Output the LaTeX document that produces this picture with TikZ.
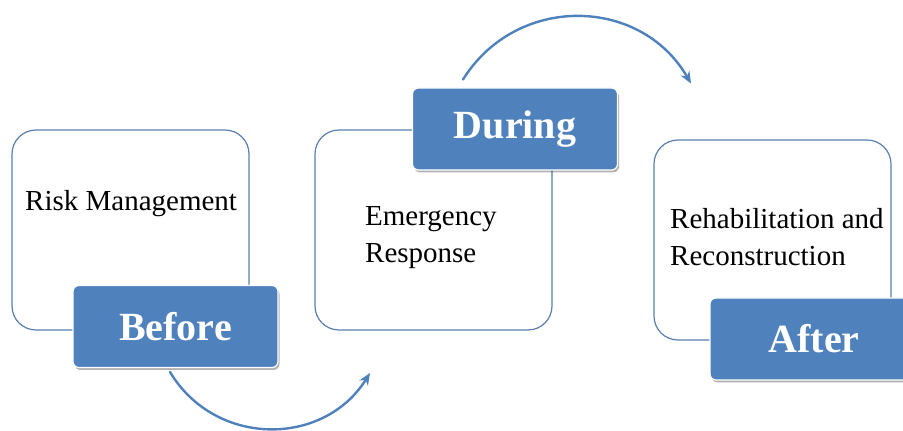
\documentclass[tikz,border=0pt]{standalone}
\usepackage{fontspec}
\setmainfont{Liberation Serif}
\usetikzlibrary{arrows.meta, positioning, shadows}
\definecolor{phaseblue}{HTML}{4F81BD}
\definecolor{frameblue}{HTML}{5A7FAE}

\begin{document}
\begin{tikzpicture}[
    x=1pt, y=1pt,
    stage/.style={draw=frameblue, line width=1.2pt, rounded corners=24pt,
                  fill=white, minimum width=237pt, minimum height=200pt},
    phase/.style={draw=white, line width=1.2pt, fill=phaseblue,
                  rounded corners=6pt, minimum width=205pt, minimum height=82pt,
                  text=white, font=\fontsize{40}{44}\selectfont\bfseries,
                  drop shadow={shadow xshift=1.5pt, shadow yshift=-2.5pt,
                               fill=black, opacity=0.3}},
    caption/.style={anchor=west, align=left, inner sep=0pt,
                    font=\fontsize{29}{37}\selectfont},
    flow/.style={draw=phaseblue, line width=2.4pt, line cap=round,
                 -{Stealth[length=12pt, width=10pt]}},
    >=Stealth
  ]
  \useasboundingbox (0,0) rectangle (903,431);

  % stage boxes
  \node[stage] (before-box) at (130.5,201) {};
  \node[stage] (during-box) at (433.5,201) {};
  \node[stage] (after-box)  at (772.5,191) {};

  \node[caption] (before-text) at (25,227)  {Risk Management};
  \node[caption] (during-text) at (365,193) {Emergency\\Response};
  \node[caption] (after-text)  at (670,194) {Rehabilitation and\\Reconstruction};

  % phase tags
  \node[phase, inner xsep=0pt, text width=193pt, align=center] (before) at (175.5,104.5) {Before};
  \node[phase] (during) at (515,302)     {During};
  \node[phase, minimum width=208pt] (after) at (814,92) {After};

  % arrows between phases
  \coordinate (before-out) at (170,59);
  \coordinate (during-in)  at (370,58);
  \coordinate (during-out) at (463,351.5);
  \coordinate (after-in)   at (691,347.5);

  \draw[flow] (before-out) to[out=-59, in=-122, looseness=1.12] (during-in);
  \draw[flow] (during-out) to[out=58, in=120, looseness=1.13] (after-in);
\end{tikzpicture}
\end{document}
